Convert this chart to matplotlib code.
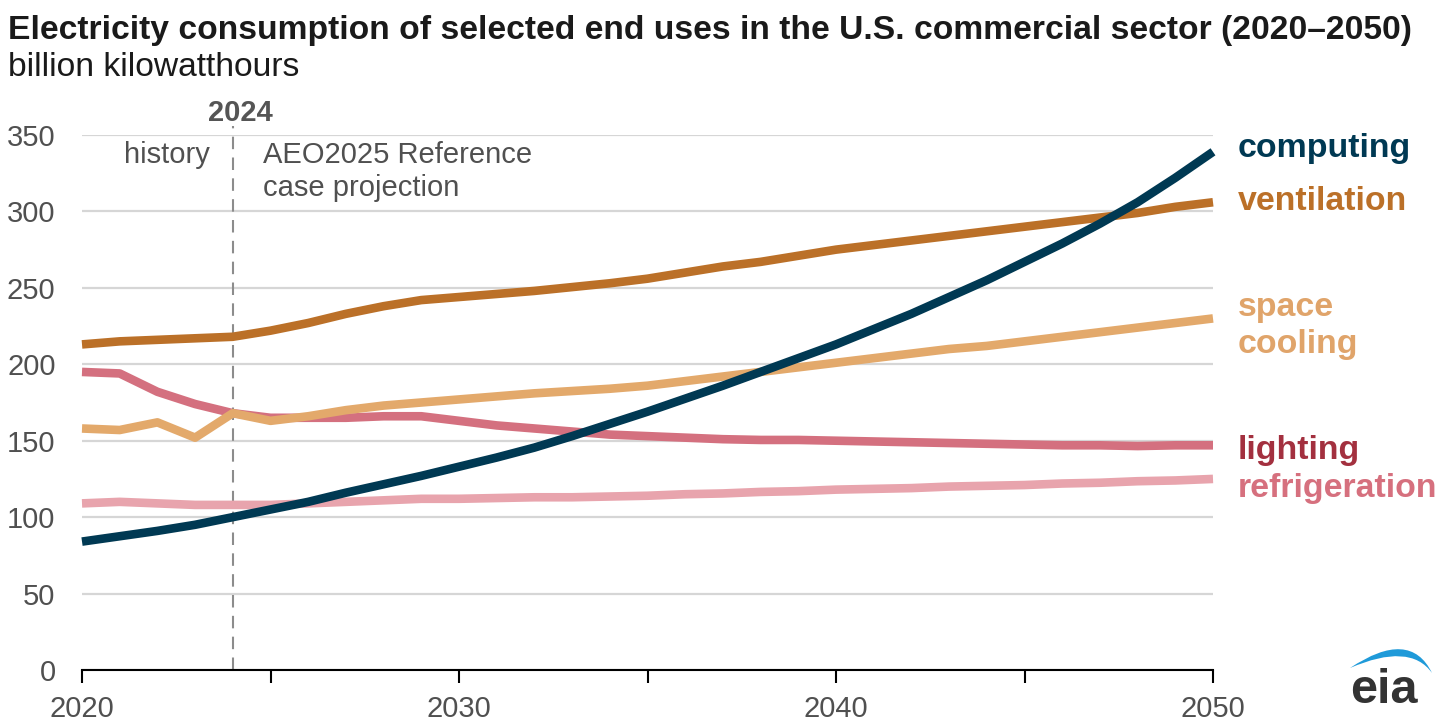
import matplotlib
matplotlib.use("Agg")
import matplotlib.pyplot as plt
from matplotlib.patches import PathPatch
from matplotlib.path import Path
import numpy as np

plt.rcParams['font.family'] = ['Liberation Sans', 'DejaVu Sans']

years = list(range(2020, 2051))

computing = [84, 87.5, 91, 95, 100, 105, 110, 116, 121.5, 127, 133, 139, 145.5, 153, 161, 169,
             177.5, 186, 195, 204, 213, 223, 233, 244, 255, 267, 279, 292, 306, 322, 339]
ventilation = [213, 215, 216, 217, 218, 222, 227, 233, 238, 242, 244, 246, 248, 250.5, 253, 256,
               260, 264, 267, 271, 275, 278, 281, 284, 287, 290, 293, 296, 299, 303, 306]
space_cooling = [158, 157, 162, 152, 168, 163, 166, 170, 173, 175, 177, 179, 181, 182.5, 184, 186,
                 189, 192, 195, 198, 201, 204, 207, 210, 212, 215, 218, 221, 224, 227, 230]
lighting = [195, 194, 182, 174, 168, 165, 165, 165, 166, 166, 163, 160, 158, 156, 154, 153,
            152, 151, 150.5, 150.5, 150, 149.5, 149, 148.5, 148, 147.5, 147, 147, 146.5, 147, 147]
refrigeration = [109, 110, 109, 108, 108, 108, 109, 110, 111, 112, 112, 112.5, 113, 113, 113.5, 114,
                 115, 115.5, 116.5, 117, 118, 118.5, 119, 120, 120.5, 121, 122, 122.5, 123.5, 124, 125]

series_names = ["computing", "ventilation", "space\ncooling", "lighting", "refrigeration"]
yticks = [0, 50, 100, 150, 200, 250, 300, 350]
xticklabels = [2020, 2030, 2040, 2050]
split_year = 2024

W, H = 1456, 728
fig = plt.figure(figsize=(W / 100, H / 100), dpi=100)
ax = fig.add_axes([82 / W, (H - 670) / H, (1213 - 82) / W, (670 - 135) / H])

line_specs = [
    (refrigeration, "#e8a4ad"),
    (lighting, "#d4707f"),
    (space_cooling, "#e3a96b"),
    (ventilation, "#bb7028"),
    (computing, "#003953"),
]
for vals, col in line_specs:
    ax.plot(years, vals, color=col, lw=6.2, solid_capstyle='butt', solid_joinstyle='round',
            clip_on=False, zorder=3)

ax.set_xlim(2020, 2050)
ax.set_ylim(0, 350)
ax.set_yticks(yticks)
ax.set_yticklabels([str(v) for v in yticks], fontsize=21, color="#505050")
ax.set_xticks(range(2020, 2051, 5))
ax.set_xticklabels([str(y) if y in xticklabels else "" for y in range(2020, 2051, 5)],
                   fontsize=21, color="#505050")
ax.tick_params(axis='y', length=0, pad=19)
ax.tick_params(axis='x', length=9, width=1.5, color="#000000", pad=9, direction='out')
ax.grid(axis='y', color="#d6d6d6", lw=1.6)
ax.set_axisbelow(True)
for s in ['top', 'right', 'left']:
    ax.spines[s].set_visible(False)
ax.spines['bottom'].set_color("#000000")
ax.spines['bottom'].set_linewidth(1.5)
ax.spines['bottom'].set_zorder(4)


def py(pix):
    """figure pixel row -> data y"""
    return (670 - pix) / (535 / 350)


# split line
ax.plot([split_year, split_year], [0, py(126)], color="#8c8c8c", lw=1.5, ls=(0, (6, 4)),
        clip_on=False, zorder=2)
ax.text(split_year + 0.2, py(113), str(split_year), fontsize=21, fontweight='bold', color="#555555",
        ha='center', va='center')
ax.text(split_year - 0.6, py(155), "history", fontsize=21, color="#505050", ha='right', va='center')
ax.text(split_year + 0.8, py(155), "AEO2025 Reference", fontsize=21, color="#505050",
        ha='left', va='center')
ax.text(split_year + 0.8, py(188), "case projection", fontsize=21, color="#505050",
        ha='left', va='center')

# right labels
label_specs = [
    ("computing", 148, "#003953"),
    ("ventilation", 202, "#bb7028"),
    ("space\ncooling", 326, "#e0a46a"),
    ("lighting", 450, "#a3303f"),
    ("refrigeration", 489, "#d6707e"),
]
for txt, ypx, col in label_specs:
    fig.text(1238 / W, 1 - ypx / H, txt, fontsize=24.4, fontweight='bold', color=col,
             ha='left', va='center', linespacing=1.22)

# title
fig.text(8 / W, 1 - 30 / H, "Electricity consumption of selected end uses in the U.S. commercial sector (2020\u20132050)",
         fontsize=24.2, fontweight='bold', color="#1a1a1a", ha='left', va='center')
fig.text(8 / W, 1 - 68 / H, "billion kilowatthours", fontsize=24.2, color="#1a1a1a",
         ha='left', va='center')

# eia logo
fig.text(1384 / W, 1 - 703 / H, "eia", fontsize=35, fontweight='bold', color="#333333",
         ha='center', va='baseline')
lax = fig.add_axes([0, 0, 1, 1])
lax.set_xlim(0, W)
lax.set_ylim(H, 0)
lax.axis('off')
verts = [(1350, 668), (1410, 628), (1432, 673), (1410, 642), (1350, 668), (1350, 668)]
codes = [Path.MOVETO, Path.CURVE3, Path.CURVE3, Path.CURVE3, Path.CURVE3, Path.CLOSEPOLY]
lax.add_patch(PathPatch(Path(verts, codes), facecolor="#1f9ad9", edgecolor="none"))

fig.savefig("out.png", dpi=100)
